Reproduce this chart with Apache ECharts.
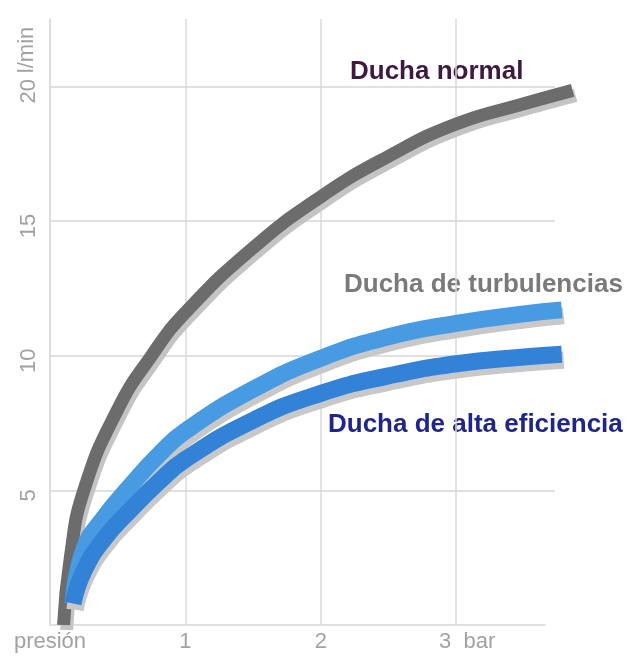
<!DOCTYPE html>
<html>
<head>
<meta charset="utf-8">
<script src="https://cdn.jsdelivr.net/npm/echarts@6/dist/echarts.min.js"></script>
<style>
  html, body { margin: 0; padding: 0; background: #fff; }
  #chart { width: 636px; height: 657px; }
</style>
</head>
<body>
<div id="chart"></div>
<script>
// presión (bar) / caudal (l/min)
var presionNormal = [0.1, 0.15, 0.25, 0.5, 0.75, 1.0, 1.5, 2.0, 2.5, 3.0, 3.5, 3.86];
var caudalNormal  = [0, 2.5, 5.0, 8.0, 10.0, 11.6, 14.0, 15.9, 17.4, 18.6, 19.35, 19.85];

var presionTurb = [0.17, 0.25, 0.4, 0.6, 0.8, 1.0, 1.5, 2.0, 2.5, 3.0, 3.5, 3.78];
var caudalTurb  = [0.8, 2.8, 4.0, 5.2, 6.3, 7.2, 8.75, 9.9, 10.7, 11.2, 11.55, 11.7];

var presionEfic = [0.17, 0.25, 0.4, 0.6, 0.8, 1.0, 1.5, 2.0, 2.5, 3.0, 3.5, 3.78];
var caudalEfic  = [0.8, 2.0, 3.2, 4.3, 5.3, 6.15, 7.6, 8.6, 9.25, 9.7, 9.95, 10.05];

// ejes
var xTicks = [0, 1, 2, 3];
var xTickText = ['presión', '1', '2', '3'];
var xUnit = 'bar';
var yTicks = [5, 10, 15, 20];
var yUnit = 'l/min';
var xEjeFin = 3.66;    // donde termina la línea del eje x
var xRejillaFin = 3.73; // donde terminan las líneas horizontales

var nombres = ['Ducha normal', 'Ducha de turbulencias', 'Ducha de alta eficiencia'];

function pares(xs, ys) {
    return xs.map(function (x, i) { return [x, ys[i]]; });
}

var fuente = '"Liberation Sans", Arial, sans-serif';

// rejilla horizontal + eje x como markLine (más cortos que el área de dibujo)
var rejilla = yTicks.map(function (v) {
    return [{ coord: [0, v] }, { coord: [xRejillaFin, v] }];
});
rejilla.push([{ coord: [0, 0] }, { coord: [xEjeFin, 0] }]);

var chart = echarts.init(document.getElementById('chart'));

var option = {
    backgroundColor: '#ffffff',
    animation: false,
    grid: {
        left: 50,
        right: 58,
        top: 19,
        bottom: 32
    },
    xAxis: {
        type: 'value',
        min: 0,
        max: 3.9,
        interval: 1,
        axisLine: { show: false },
        axisTick: { show: false },
        splitLine: {
            show: true,
            showMinLine: false,
            showMaxLine: false,
            lineStyle: { color: '#dadada', width: 1.5 }
        },
        axisLabel: {
            margin: 6,
            fontSize: 22,
            color: '#a2a2a2',
            fontFamily: fuente,
            showMaxLabel: false,
            formatter: function (v) {
                var i = xTicks.indexOf(v);
                if (i < 0) return '';
                if (v === 3) return '{p|}' + xTickText[i] + '  ' + xUnit;
                return xTickText[i];
            },
            rich: {
                p: { width: 22 }
            }
        }
    },
    yAxis: {
        type: 'value',
        min: 0,
        max: 22.5,
        interval: 5,
        name: yUnit,
        nameLocation: 'end',
        nameRotate: 90,
        nameGap: -59,
        nameTextStyle: {
            fontSize: 22,
            color: '#a2a2a2',
            fontFamily: fuente,
            verticalAlign: 'bottom',
            padding: [0, 0, 12, 0]
        },
        axisLine: { show: true, lineStyle: { color: '#d2d2d2', width: 1.5 } },
        axisTick: { show: false },
        splitLine: { show: false },
        axisLabel: {
            rotate: 90,
            margin: 10,
            fontSize: 22,
            color: '#a2a2a2',
            fontFamily: fuente,
            padding: [0, 10, 0, 0],
            formatter: function (v) {
                return yTicks.indexOf(v) >= 0 ? String(v) : '';
            }
        }
    },
    series: [{
        type: 'line',
        data: [],
        z: 1,
        markLine: {
            silent: true,
            symbol: 'none',
            z: 1,
            label: { show: false },
            lineStyle: { color: '#d6d6d6', width: 1.5, type: 'solid' },
            data: rejilla
        }
    }, {
        name: nombres[0],
        type: 'line',
        data: pares(presionNormal, caudalNormal),
        smooth: 0.5,
        symbol: 'none',
        lineStyle: {
            color: '#6c6c6c',
            width: 13,
            cap: 'butt',
            shadowColor: '#c4c4c4',
            shadowBlur: 0,
            shadowOffsetX: 3,
            shadowOffsetY: 5
        }
    }, {
        name: nombres[1],
        type: 'line',
        data: pares(presionTurb, caudalTurb),
        smooth: 0.5,
        symbol: 'none',
        lineStyle: {
            color: '#479be2',
            width: 17,
            cap: 'butt',
            shadowColor: '#c8c8c8',
            shadowBlur: 0,
            shadowOffsetX: 2,
            shadowOffsetY: 6
        }
    }, {
        name: nombres[2],
        type: 'line',
        data: pares(presionEfic, caudalEfic),
        smooth: 0.5,
        symbol: 'none',
        lineStyle: {
            color: '#3283d8',
            width: 17,
            cap: 'butt',
            shadowColor: '#c8c8c8',
            shadowBlur: 0,
            shadowOffsetX: 2,
            shadowOffsetY: 6
        }
    }],
    // rótulos de las curvas
    graphic: [{
        type: 'text',
        x: 350,
        y: 72,
        style: {
            text: nombres[0],
            fill: '#3e1a42',
            font: 'bold 26px ' + fuente,
            verticalAlign: 'middle'
        }
    }, {
        type: 'text',
        x: 344,
        y: 285,
        style: {
            text: nombres[1],
            fill: '#7a7a7a',
            font: 'bold 26px ' + fuente,
            verticalAlign: 'middle'
        }
    }, {
        type: 'text',
        x: 328,
        y: 425,
        style: {
            text: nombres[2],
            fill: '#1f2590',
            font: 'bold 26px ' + fuente,
            verticalAlign: 'middle'
        }
    }]
};

chart.setOption(option);
</script>
</body>
</html>
